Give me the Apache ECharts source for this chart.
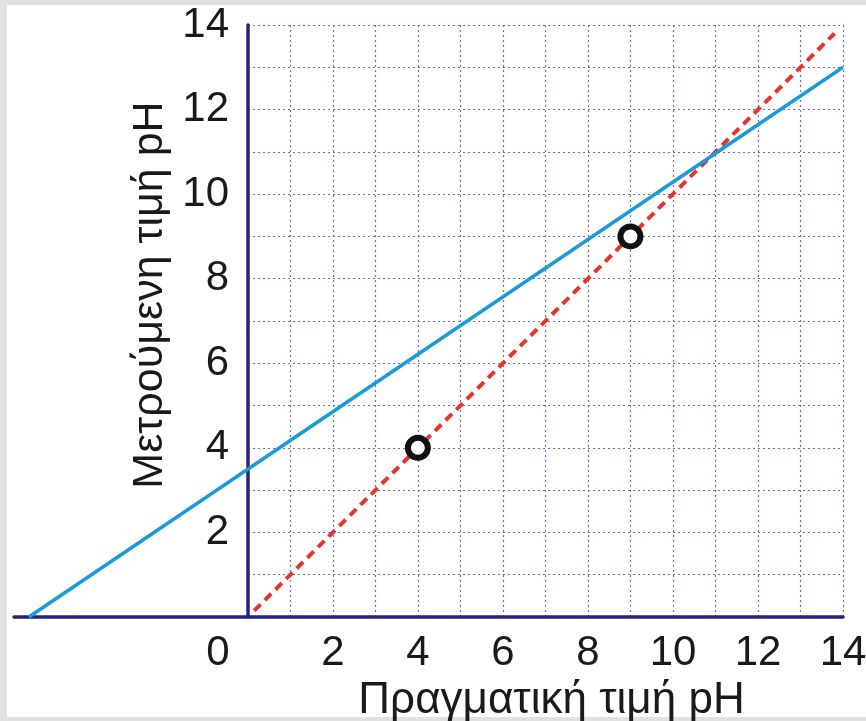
<!DOCTYPE html>
<html><head><meta charset="utf-8">
<script src="https://cdn.jsdelivr.net/npm/echarts@6/dist/echarts.min.js"></script>
<style>
html,body{margin:0;padding:0;background:#e1e1e1;}
#panel{position:absolute;left:7px;top:5px;width:859px;height:712px;background:#fff;}
#c{position:absolute;left:0;top:0;width:866px;height:721px;}
</style></head>
<body><div id="panel"></div><div id="c"></div>
<script>
// Data
const xTitle = 'Πραγματική τιμή pH';
const yTitle = 'Μετρούμενη τιμή pH';
const xTickLabels = [0, 2, 4, 6, 8, 10, 12, 14];
const yTickLabels = [2, 4, 6, 8, 10, 12, 14];
const calibrationLine = [[-5.15, 0], [14, 13]];   // blue solid line
const idealLine = [[0.15, 0.15], [13.8, 13.8]];  // red dashed y = x
const measuredPoints = [[4, 4], [9, 9]];

const axisCol = '#2b1f7c';
const gridCol = '#6e6cba';
const txtCol = '#1a1a1a';
const font = 'Liberation Sans, Arial, sans-serif';
const dotted = {color: gridCol, width: 1.2, type: [2, 3]};

const chart = echarts.init(document.getElementById('c'));
chart.setOption({
  animation: false,
  grid: [
    {left: 14, right: 23, top: 25, bottom: 104, containLabel: false, outerBoundsMode: 'none'},
    {left: 248, right: 23, top: 25, bottom: 104, containLabel: false, outerBoundsMode: 'none'}
  ],
  xAxis: [
    {gridIndex: 0, type: 'value', min: -5.5, max: 14,
     axisLine: {show: true, onZero: false, lineStyle: {color: axisCol, width: 3.5}},
     axisTick: {show: false}, axisLabel: {show: false}, splitLine: {show: false}},
    {gridIndex: 1, type: 'value', min: 0, max: 14, interval: 2,
     name: xTitle, nameLocation: 'middle', nameGap: 54,
     nameTextStyle: {fontFamily: font, fontSize: 44, color: txtCol, padding: [0, 0, 0, 12]},
     axisLine: {show: false}, axisTick: {show: false},
     axisLabel: {
       show: true, margin: 15, fontFamily: font, fontSize: 42, color: txtCol,
       customValues: xTickLabels,
       formatter: v => v === 0 ? '{o|0}' : String(v),
       rich: {o: {fontFamily: font, fontSize: 42, color: txtCol, padding: [0, 60, 0, 0]}}
     },
     splitLine: {show: true, lineStyle: dotted},
     minorTick: {show: false, splitNumber: 2},
     minorSplitLine: {show: true, lineStyle: dotted}}
  ],
  yAxis: [
    {gridIndex: 0, type: 'value', min: 0, max: 14, show: false},
    {gridIndex: 1, type: 'value', min: 0, max: 14, interval: 2,
     name: yTitle, nameLocation: 'middle', nameGap: 71, nameRotate: 90,
     nameTextStyle: {fontFamily: font, fontSize: 43, color: txtCol, padding: [0, 0, 0, 52]},
     axisLine: {show: true, onZero: false, lineStyle: {color: axisCol, width: 3.5}},
     axisTick: {show: false},
     axisLabel: {show: true, margin: 19, fontFamily: font, fontSize: 42, color: txtCol,
       customValues: yTickLabels},
     splitLine: {show: true, lineStyle: dotted},
     minorTick: {show: false, splitNumber: 2},
     minorSplitLine: {show: true, lineStyle: dotted}}
  ],
  series: [
    {type: 'line', xAxisIndex: 0, yAxisIndex: 0, data: idealLine, symbol: 'none',
     lineStyle: {color: '#e8322b', width: 4, type: [9, 6]}, z: 3},
    {type: 'line', xAxisIndex: 0, yAxisIndex: 0, data: calibrationLine, symbol: 'none',
     lineStyle: {color: '#1b9ad8', width: 3.5}, z: 4},
    {type: 'scatter', xAxisIndex: 0, yAxisIndex: 0, data: measuredPoints,
     symbol: 'circle', symbolSize: 20,
     itemStyle: {color: '#fff', borderColor: '#111', borderWidth: 6, opacity: 1}, z: 5}
  ]
});
</script></body></html>
